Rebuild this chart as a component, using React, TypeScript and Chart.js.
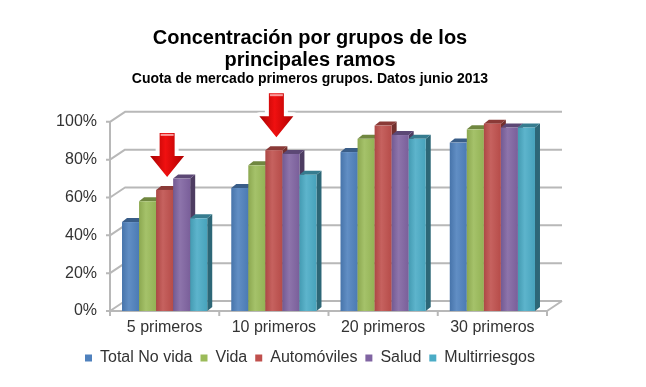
import React, { useEffect, useRef } from "react";
import { Chart, registerables } from "chart.js";
Chart.register(...registerables);

const categories = ["5 primeros", "10 primeros", "20 primeros", "30 primeros"];
const seriesNames = ["Total No vida", "Vida", "Automóviles", "Salud", "Multirriesgos"];
const totalNoVida = [47, 65, 84, 89];
const vida = [58, 77, 91, 96];
const automoviles = [64, 85, 98, 99];
const salud = [70, 83, 93, 97];
const multirriesgos = [49, 72, 91, 97];
const seriesValues = [totalNoVida, vida, automoviles, salud, multirriesgos];
const seriesColors = ["#4F81BD", "#9BBB59", "#C0504D", "#8064A2", "#4BACC6"];
const yMin = 0;
const yMax = 100;
const yStep = 20;
const arrowSeries = 2;
const arrowCategories = [0, 1];
const titleLines = ["Concentración por grupos de los", "principales ramos"];
const subtitleText = "Cuota de mercado primeros grupos. Datos junio 2013";

const WX = 15, WY = 10; // wall depth
const BX = 5, BY = 4; // bar depth
const FONT = "Arial, 'Liberation Sans', sans-serif";
const TICK_COLOR = "#333";

function shade(hex: string, f: number) {
  const n = parseInt(hex.slice(1), 16);
  const r = Math.round(((n >> 16) & 255) * f);
  const g = Math.round(((n >> 8) & 255) * f);
  const b = Math.round((n & 255) * f);
  return `rgb(${Math.min(255, r)},${Math.min(255, g)},${Math.min(255, b)})`;
}
function tint(hex: string, t: number) {
  const n = parseInt(hex.slice(1), 16);
  const c = [(n >> 16) & 255, (n >> 8) & 255, n & 255].map((v) => Math.round(v + (255 - v) * t));
  return `rgb(${c[0]},${c[1]},${c[2]})`;
}

const wallsPlugin = {
  id: "walls",
  beforeDatasetsDraw(chart: any) {
    const { ctx, chartArea: a, scales } = chart;
    const ys = scales.y;
    const xs = scales.x;
    ctx.save();
    ctx.strokeStyle = "#b8b8b8";
    ctx.lineWidth = 2;
    ctx.lineJoin = "round";
    ys.ticks.forEach((t: any) => {
      const py = ys.getPixelForValue(t.value);
      ctx.beginPath();
      ctx.moveTo(a.left - 4, py);
      ctx.lineTo(a.left, py);
      ctx.lineTo(a.left + WX, py - WY);
      ctx.lineTo(a.right + WX, py - WY);
      ctx.stroke();
    });
    ctx.beginPath();
    ctx.moveTo(a.left, ys.getPixelForValue(yMax));
    ctx.lineTo(a.left, a.bottom);
    ctx.lineTo(a.right, a.bottom);
    ctx.lineTo(a.right + WX, a.bottom - WY);
    ctx.stroke();
    const n = chart.data.labels.length;
    for (let i = 0; i <= n; i++) {
      const px = i === 0 ? a.left : i === n ? a.right : (xs.getPixelForValue(i - 1) + xs.getPixelForValue(i)) / 2;
      ctx.beginPath();
      ctx.moveTo(px, a.bottom);
      ctx.lineTo(px, a.bottom + 5);
      ctx.stroke();
    }
    // tick labels
    ctx.fillStyle = TICK_COLOR;
    ctx.font = `16px ${FONT}`;
    ctx.textAlign = "right";
    ctx.textBaseline = "middle";
    ys.ticks.forEach((t: any) => {
      ctx.fillText(t.value + "%", a.left - 13, ys.getPixelForValue(t.value));
    });
    ctx.textAlign = "center";
    chart.data.labels.forEach((lab: string, i: number) => {
      ctx.fillText(lab, xs.getPixelForValue(i), a.bottom + 17);
    });
    ctx.restore();
  },
};

function drawArrow(ctx: CanvasRenderingContext2D, cx: number, tipY: number) {
  const H = 44, headH = 21, headW = 34, shaftW = 15;
  const top = tipY - H, neck = tipY - headH;
  ctx.beginPath();
  ctx.moveTo(cx - shaftW / 2, top);
  ctx.lineTo(cx + shaftW / 2, top);
  ctx.lineTo(cx + shaftW / 2, neck);
  ctx.lineTo(cx + headW / 2, neck);
  ctx.lineTo(cx, tipY);
  ctx.lineTo(cx - headW / 2, neck);
  ctx.lineTo(cx - shaftW / 2, neck);
  ctx.closePath();
  ctx.save();
  ctx.strokeStyle = "rgba(255,255,255,0.95)";
  ctx.lineWidth = 8;
  ctx.lineJoin = "round";
  ctx.stroke();
  const g = ctx.createLinearGradient(cx - headW / 2, 0, cx + headW / 2, 0);
  g.addColorStop(0, "#a80000");
  g.addColorStop(0.45, "#f01010");
  g.addColorStop(1, "#b00000");
  ctx.fillStyle = g;
  ctx.fill();
  ctx.fillStyle = "rgba(255,190,190,0.8)";
  ctx.fillRect(cx - shaftW / 2 + 1, top + 1, shaftW - 2, 2);
  ctx.restore();
}

const bars3dPlugin = {
  id: "bars3d",
  beforeDatasetDraw() {
    return false;
  },
  afterDatasetsDraw(chart: any) {
    const ctx: CanvasRenderingContext2D = chart.ctx;
    const n = chart.data.labels.length;
    ctx.save();
    for (let i = 0; i < n; i++) {
      for (let d = 0; d < chart.data.datasets.length; d++) {
        if (!chart.isDatasetVisible(d)) continue;
        const el = chart.getDatasetMeta(d).data[i];
        const { x, y, base, width } = el.getProps(["x", "y", "base", "width"], true);
        const l = x - width / 2, r = x + width / 2;
        const c = seriesColors[d];
        ctx.fillStyle = shade(c, 0.6);
        ctx.beginPath();
        ctx.moveTo(r, y);
        ctx.lineTo(r + BX, y - BY);
        ctx.lineTo(r + BX, base - BY);
        ctx.lineTo(r, base);
        ctx.closePath();
        ctx.fill();
        ctx.fillStyle = shade(c, 0.72);
        ctx.beginPath();
        ctx.moveTo(l, y);
        ctx.lineTo(l + BX, y - BY);
        ctx.lineTo(r + BX, y - BY);
        ctx.lineTo(r, y);
        ctx.closePath();
        ctx.fill();
        const g = ctx.createLinearGradient(l, 0, r, 0);
        g.addColorStop(0, shade(c, 0.9));
        g.addColorStop(0.4, tint(c, 0.1));
        g.addColorStop(1, shade(c, 0.95));
        ctx.fillStyle = g;
        ctx.fillRect(l, y, width, base - y);
      }
    }
    arrowCategories.forEach((ci) => {
      const el = chart.getDatasetMeta(arrowSeries).data[ci];
      const { x, y } = el.getProps(["x", "y"], true);
      drawArrow(ctx, x + BX / 2, y - BY - 9);
    });
    ctx.restore();
  },
};

export default function App() {
  const ref = useRef<HTMLCanvasElement>(null);
  useEffect(() => {
    const chart = new Chart(ref.current!, {
      type: "bar",
      data: {
        labels: categories,
        datasets: seriesNames.map((name, i) => ({
          label: name,
          data: seriesValues[i],
          backgroundColor: seriesColors[i],
          borderWidth: 0,
          categoryPercentage: 0.78,
          barPercentage: 1,
        })),
      },
      options: {
        animation: false,
        responsive: true,
        maintainAspectRatio: false,
        layout: { padding: { left: 73, right: 99, top: 0, bottom: 11 } },
        plugins: {
          title: {
            display: true,
            text: titleLines,
            color: "#000",
            font: { family: FONT, size: 20, weight: "bold", lineHeight: 1.1 },
            padding: { top: 27, bottom: 0 },
          },
          subtitle: {
            display: true,
            text: subtitleText,
            color: "#000",
            font: { family: FONT, size: 14, weight: "bold", lineHeight: 1.2 },
            padding: { top: 0, bottom: 34 },
          },
          legend: {
            display: true,
            position: "bottom",
            labels: {
              boxWidth: 7,
              boxHeight: 7,
              padding: 8,
              color: "#333",
              font: { family: FONT, size: 16 },
            },
          },
          tooltip: { enabled: false },
        },
        scales: {
          x: {
            grid: { display: false },
            border: { display: false },
            ticks: { display: false },
            afterFit: (s: any) => {
              s.height = 31;
            },
          },
          y: {
            min: yMin,
            max: yMax,
            grid: { display: false },
            border: { display: false },
            ticks: { display: false, stepSize: yStep },
            afterFit: (s: any) => {
              s.width = 37;
            },
          },
        },
      },
      plugins: [wallsPlugin, bars3dPlugin],
    } as any);
    return () => chart.destroy();
  }, []);
  return (
    <div style={{ position: "absolute", left: 0, top: 0, width: 646, height: 387, background: "#fff" }}>
      <canvas ref={ref} />
    </div>
  );
}
